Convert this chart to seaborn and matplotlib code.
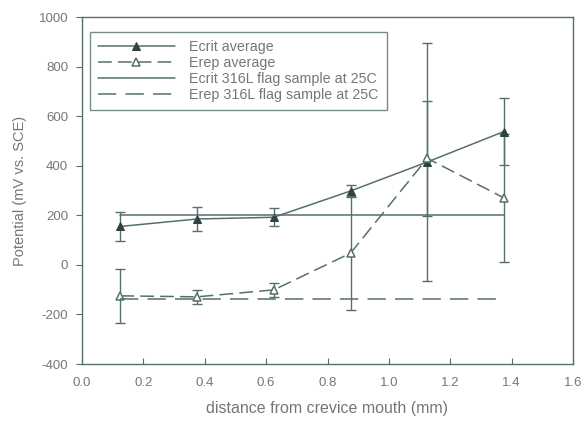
import matplotlib
matplotlib.use("Agg")
import matplotlib.pyplot as plt
import seaborn as sns
import pandas as pd

# Data
distance = [0.125, 0.375, 0.625, 0.875, 1.125, 1.375]
ecrit_avg = [155, 185, 192, 298, 415, 538]
ecrit_err = [60, 50, 37, 25, 482, 135]
erep_avg = [-125, -129, -101, 47, 430, 270]
erep_err = [110, 28, 27, 230, 231, 258]
flag_x = [0.125, 1.375]
ecrit_flag = [200, 200]
erep_flag = [-137, -137]

labels = ["Ecrit average", "Erep average",
          "Ecrit 316L flag sample at 25C", "Erep 316L flag sample at 25C"]

sns.set_style("white")
plt.rcParams['font.family'] = ['Liberation Sans', 'DejaVu Sans']
plt.rcParams['axes.unicode_minus'] = False

line_c = "#55706c"
text_c = "#737876"

fig = plt.figure(figsize=(5.88, 4.23), dpi=100)
ax = fig.add_axes([82/588, 1-364/423, (573-82)/588, (364-17)/423])

df_ec = pd.DataFrame({"x": distance, "y": ecrit_avg})
df_er = pd.DataFrame({"x": distance, "y": erep_avg})
df_ef = pd.DataFrame({"x": flag_x, "y": ecrit_flag})
df_rf = pd.DataFrame({"x": flag_x, "y": erep_flag})

sns.lineplot(data=df_ec, x="x", y="y", ax=ax, color=line_c, lw=1.1,
             marker="^", markersize=6, markerfacecolor="#2f4442",
             markeredgecolor="#2f4442", label=labels[0])
sns.lineplot(data=df_er, x="x", y="y", ax=ax, color=line_c, lw=1.1,
             marker="^", markersize=6, markerfacecolor="white",
             markeredgecolor=line_c, markeredgewidth=1.1,
             label=labels[1])
ax.lines[-1].set_dashes([9, 4])
sns.lineplot(data=df_ef, x="x", y="y", ax=ax, color=line_c, lw=1.1,
             label=labels[2])
sns.lineplot(data=df_rf, x="x", y="y", ax=ax, color=line_c, lw=1.1,
             label=labels[3])
ax.lines[-1].set_dashes([12, 6])

ax.errorbar(distance, ecrit_avg, yerr=ecrit_err, fmt="none",
            ecolor=line_c, elinewidth=1.0, capsize=3.3, capthick=1.0, zorder=1)
ax.errorbar(distance, erep_avg, yerr=erep_err, fmt="none",
            ecolor=line_c, elinewidth=1.0, capsize=3.3, capthick=1.0, zorder=1)

ax.set_xlim(0, 1.6)
ax.set_ylim(-400, 1000)
ax.set_xticks([0.0, 0.2, 0.4, 0.6, 0.8, 1.0, 1.2, 1.4, 1.6])
ax.set_xticklabels(["0.0", "0.2", "0.4", "0.6", "0.8", "1.0", "1.2", "1.4", "1.6"])
ax.set_yticks(range(-400, 1001, 200))

for s in ax.spines.values():
    s.set_visible(True)
    s.set_color(line_c)
    s.set_linewidth(1.0)

ax.tick_params(axis="x", direction="in", length=4, color=line_c,
               labelsize=9.5, labelcolor=text_c, pad=9)
ax.tick_params(axis="y", direction="out", length=4, color=line_c,
               labelsize=9.5, labelcolor=text_c, pad=6)
ax.tick_params(left=True, bottom=True)

ax.set_xlabel("distance from crevice mouth (mm)", fontsize=11.5, color=text_c, labelpad=9)
ax.set_ylabel("Potential (mV vs. SCE)", fontsize=10.5, color=text_c, labelpad=8)

leg = ax.legend(loc="upper left", bbox_to_anchor=(8/491, 1-15/347), fontsize=10.3,
                frameon=True, fancybox=False, edgecolor=line_c,
                handlelength=5.4, handletextpad=1.0, borderpad=0.55,
                labelspacing=0.15, borderaxespad=0)
leg.get_frame().set_linewidth(1.0)
for t in leg.get_texts():
    t.set_color(text_c)

fig.savefig("out.png", dpi=100, facecolor="white")
